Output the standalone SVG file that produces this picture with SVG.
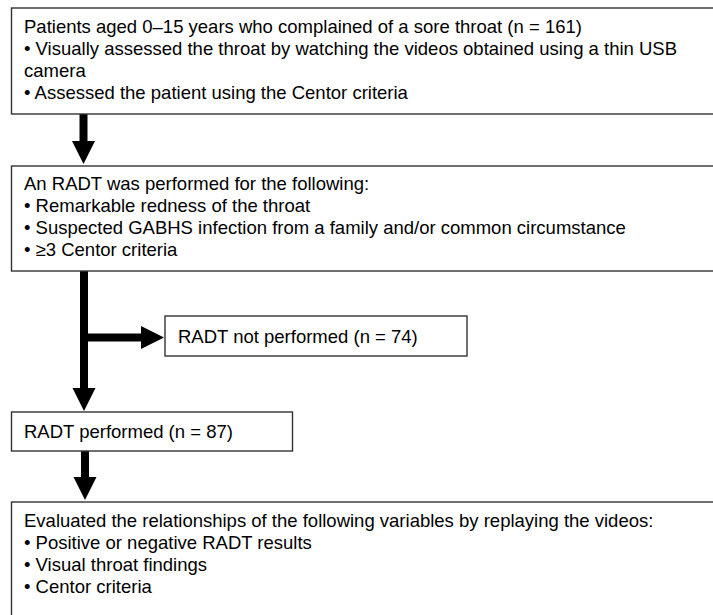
<svg xmlns="http://www.w3.org/2000/svg" width="713" height="615" viewBox="0 0 713 615">
<style>
.box{fill:#fff;stroke:#333;stroke-width:1.4}
.t{font-family:"Liberation Sans",Arial,sans-serif;font-size:18.5px;fill:#000}
.arr{fill:#000}
</style>
<rect width="713" height="615" fill="#fff"/>
<g id="connectors">
<polygon class="arr" points="79.5,114 87.5,114 87.5,141 95,141 83.5,164 72,141 79.5,141"/>
<polygon class="arr" points="80,271 88,271 88,388 95.5,388 84,411 72.5,388 80,388"/>
<polygon class="arr" points="88,333.5 141,333.5 141,326 164,337.5 141,349 141,341.5 88,341.5"/>
<polygon class="arr" points="81,451 89,451 89,477 96.5,477 85,500 73.5,477 81,477"/>
</g>
<g id="n1">
<rect class="box" x="11.5" y="8" width="710" height="106"/>
<text class="t" x="24" y="33">Patients aged 0–15 years who complained of a sore throat (n = 161)</text>
<text class="t" x="24" y="55">• Visually assessed the throat by watching the videos obtained using a thin USB</text>
<text class="t" x="24" y="77">camera</text>
<text class="t" x="24" y="99">• Assessed the patient using the Centor criteria</text>
</g>
<g id="n2">
<rect class="box" x="11.5" y="166" width="710" height="105"/>
<text class="t" x="24" y="190">An RADT was performed for the following:</text>
<text class="t" x="24" y="212">• Remarkable redness of the throat</text>
<text class="t" x="24" y="234">• Suspected GABHS infection from a family and/or common circumstance</text>
<text class="t" x="24" y="256">• ≥3 Centor criteria</text>
</g>
<g id="n3">
<rect class="box" x="165" y="316" width="302" height="40"/>
<text class="t" x="178" y="343">RADT not performed (n = 74)</text>
</g>
<g id="n4">
<rect class="box" x="11.5" y="412" width="281" height="39"/>
<text class="t" x="24" y="438">RADT performed (n = 87)</text>
</g>
<g id="n5">
<rect class="box" x="11.5" y="502" width="710" height="120"/>
<text class="t" x="24" y="527">Evaluated the relationships of the following variables by replaying the videos:</text>
<text class="t" x="24" y="549">• Positive or negative RADT results</text>
<text class="t" x="24" y="571">• Visual throat findings</text>
<text class="t" x="24" y="593">• Centor criteria</text>
</g>
</svg>
